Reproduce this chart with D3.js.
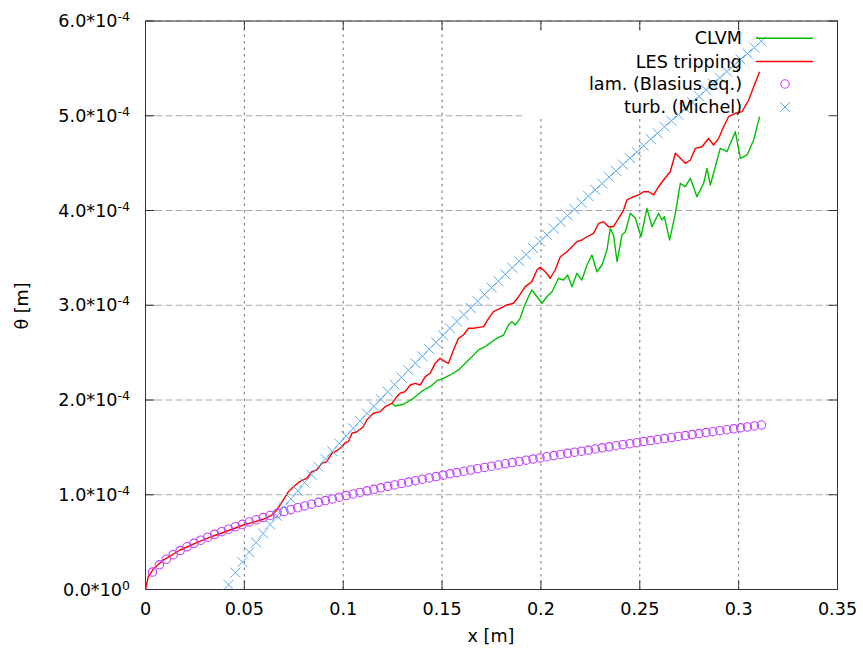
<!DOCTYPE html>
<html><head><meta charset="utf-8">
<script src="https://cdn.jsdelivr.net/npm/d3@7"></script>
<style>
body{margin:0;background:#fff}
svg{display:block}
text{font-family:"DejaVu Sans",sans-serif;fill:#000}
</style>
</head><body>
<svg id="chart" width="863" height="652"></svg>
<script>
// ---- data (theta values in units of 1e-4 m) ----
const xTicks = [0, 0.05, 0.1, 0.15, 0.2, 0.25, 0.3, 0.35];
const xTickLabels = ["0", "0.05", "0.1", "0.15", "0.2", "0.25", "0.3", "0.35"];
const yTicks = [0, 1, 2, 3, 4, 5, 6];
const yTickMantissa = ["0.0", "1.0", "2.0", "3.0", "4.0", "5.0", "6.0"];
const yTickExponent = ["0", "-4", "-4", "-4", "-4", "-4", "-4"];
const seriesNames = ["CLVM", "LES tripping", "lam. (Blasius eq.)", "turb. (Michel)"];
const xLabel = "x [m]";
const yLabel = "θ [m]";

const lesX = [0,0.0014,0.0039,0.009,0.0175,0.0259,0.0343,0.0428,0.0495,0.0596,0.0639,0.0664,0.0697,0.0723,0.0748,0.0773,0.079,0.0816,0.0841,0.0866,0.0892,0.0917,0.0942,0.0968,0.0993,0.101,0.1026,0.1044,0.1069,0.1102,0.1119,0.1153,0.1187,0.1212,0.1246,0.1271,0.1288,0.1313,0.1339,0.1364,0.1389,0.1415,0.144,0.1465,0.149,0.1516,0.1532,0.1558,0.1583,0.1608,0.1634,0.1659,0.171,0.1735,0.176,0.1794,0.1828,0.1861,0.1887,0.1921,0.1954,0.198,0.1996,0.2022,0.2047,0.2072,0.2098,0.2132,0.2157,0.2182,0.2207,0.2233,0.2266,0.2292,0.2317,0.2342,0.2367,0.2393,0.2418,0.2435,0.2469,0.2494,0.2519,0.2545,0.257,0.2595,0.262,0.2654,0.268,0.2705,0.273,0.2756,0.2781,0.2815,0.2848,0.2873,0.2899,0.2924,0.2949,0.2983,0.3017,0.3051,0.3076,0.3106];
const lesY = [0,0.135,0.213,0.311,0.417,0.494,0.565,0.628,0.681,0.741,0.786,0.839,0.945,1.032,1.085,1.127,1.148,1.174,1.243,1.261,1.332,1.349,1.437,1.465,1.507,1.549,1.56,1.649,1.665,1.718,1.789,1.86,1.877,1.929,1.965,2.035,2.071,2.088,2.158,2.176,2.158,2.246,2.282,2.387,2.44,2.404,2.387,2.528,2.651,2.686,2.757,2.757,2.774,2.862,2.932,2.968,3.003,3.021,3.09,3.196,3.249,3.372,3.401,3.354,3.285,3.372,3.512,3.565,3.618,3.671,3.689,3.723,3.759,3.865,3.882,3.829,3.829,3.918,4.005,4.111,4.146,4.164,4.198,4.198,4.164,4.251,4.322,4.409,4.604,4.551,4.498,4.533,4.656,4.673,4.762,4.691,4.762,4.884,4.99,5.026,5.043,5.166,5.307,5.465];

const clvmX = [0.1246,0.1263,0.1305,0.1355,0.1406,0.144,0.1474,0.1507,0.1541,0.1583,0.1617,0.1651,0.1684,0.1718,0.1752,0.1777,0.1811,0.1836,0.1853,0.187,0.1895,0.1912,0.1937,0.1954,0.198,0.2005,0.203,0.2056,0.2089,0.2114,0.2135,0.2157,0.2182,0.2207,0.2233,0.2258,0.2283,0.2309,0.2334,0.2351,0.2367,0.2385,0.241,0.2427,0.2452,0.2477,0.2506,0.2536,0.2562,0.2595,0.2612,0.2624,0.2651,0.268,0.2705,0.273,0.2756,0.2789,0.2823,0.284,0.2857,0.2882,0.2907,0.2941,0.2983,0.3009,0.3043,0.3076,0.3106];
const clvmY = [1.965,1.937,1.955,2.018,2.105,2.14,2.204,2.229,2.264,2.317,2.387,2.457,2.528,2.563,2.615,2.651,2.686,2.792,2.826,2.792,2.862,2.968,3.09,3.161,3.09,3.021,3.09,3.143,3.285,3.266,3.319,3.196,3.337,3.266,3.425,3.53,3.354,3.425,3.583,3.812,3.742,3.46,3.742,3.776,3.97,3.92,3.723,4.023,3.829,3.97,3.9,3.935,3.689,3.97,4.287,4.251,4.34,4.146,4.287,4.445,4.269,4.462,4.656,4.621,4.832,4.551,4.586,4.744,4.99];

const blasiusX = [0.0035,0.007,0.0105,0.014,0.0175,0.021,0.0245,0.028,0.0315,0.035,0.0385,0.042,0.0455,0.049,0.0525,0.056,0.0595,0.063,0.0665,0.07,0.0735,0.077,0.0805,0.084,0.0875,0.091,0.0945,0.098,0.1015,0.105,0.1085,0.112,0.1155,0.119,0.1225,0.126,0.1295,0.133,0.1365,0.14,0.1435,0.147,0.1505,0.154,0.1575,0.161,0.1645,0.168,0.1715,0.175,0.1785,0.182,0.1855,0.189,0.1925,0.196,0.1995,0.203,0.2065,0.21,0.2135,0.217,0.2205,0.224,0.2275,0.231,0.2345,0.238,0.2415,0.245,0.2485,0.252,0.2555,0.259,0.2625,0.266,0.2695,0.273,0.2765,0.28,0.2835,0.287,0.2905,0.294,0.2975,0.301,0.3045,0.308,0.3115];
const blasiusY = [0.184,0.26,0.319,0.368,0.411,0.451,0.487,0.52,0.552,0.582,0.61,0.637,0.663,0.688,0.713,0.736,0.759,0.781,0.802,0.823,0.843,0.863,0.882,0.901,0.92,0.938,0.956,0.974,0.991,1.008,1.024,1.041,1.057,1.073,1.089,1.104,1.119,1.134,1.149,1.164,1.178,1.192,1.207,1.221,1.234,1.248,1.261,1.275,1.288,1.301,1.314,1.327,1.34,1.352,1.365,1.377,1.389,1.401,1.413,1.425,1.437,1.449,1.46,1.472,1.483,1.495,1.506,1.517,1.528,1.539,1.55,1.561,1.572,1.583,1.593,1.604,1.615,1.625,1.635,1.646,1.656,1.666,1.676,1.686,1.696,1.706,1.716,1.726,1.736];

const michelX = [0.042,0.0455,0.049,0.0525,0.056,0.0595,0.063,0.0665,0.07,0.0735,0.077,0.0805,0.084,0.0875,0.091,0.0945,0.098,0.1015,0.105,0.1085,0.112,0.1155,0.119,0.1225,0.126,0.1295,0.133,0.1365,0.14,0.1435,0.147,0.1505,0.154,0.1575,0.161,0.1645,0.168,0.1715,0.175,0.1785,0.182,0.1855,0.189,0.1925,0.196,0.1995,0.203,0.2065,0.21,0.2135,0.217,0.2205,0.224,0.2275,0.231,0.2345,0.238,0.2415,0.245,0.2485,0.252,0.2555,0.259,0.2625,0.266,0.2695,0.273,0.2765,0.28,0.2835,0.287,0.2905,0.294,0.2975,0.301,0.3045,0.308,0.3115];
const michelY = [0.05,0.178,0.29,0.395,0.495,0.592,0.686,0.777,0.868,0.956,1.042,1.128,1.211,1.295,1.378,1.459,1.54,1.621,1.7,1.779,1.857,1.933,2.009,2.087,2.162,2.238,2.313,2.389,2.461,2.537,2.609,2.683,2.757,2.829,2.901,2.971,3.043,3.113,3.186,3.254,3.326,3.396,3.465,3.535,3.604,3.673,3.743,3.81,3.88,3.947,4.014,4.082,4.152,4.219,4.284,4.353,4.418,4.485,4.553,4.617,4.683,4.754,4.815,4.884,4.947,5.012,5.077,5.144,5.205,5.274,5.337,5.402,5.467,5.529,5.594,5.656,5.719,5.787];

// ---- drawing ----
const svg = d3.select("#chart");
const x = d3.scaleLinear().domain([0, 0.35]).range([145.5, 837.5]);
const y = d3.scaleLinear().domain([0, 6]).range([589.5, 21]);
const [X0, X1] = x.range(), [Y0, Y1] = y.range();
const FS = 17.6;

const colGreen = "#00c000", colRed = "#ff0000", colCirc = "#c040ff", colCross = "#5aaaf2";

// grid
const g = svg.append("g");
g.selectAll(".hg").data(yTicks).join("line")
  .attr("x1", X0).attr("x2", X1).attr("y1", d => y(d)).attr("y2", d => y(d))
  .attr("stroke", "#a8a8a8").attr("stroke-width", 1).attr("stroke-dasharray", "7,3");
g.selectAll(".vg").data(xTicks).join("line")
  .attr("x1", d => x(d)).attr("x2", d => x(d)).attr("y1", Y0).attr("y2", Y1)
  .attr("stroke", "#707070").attr("stroke-width", 1).attr("stroke-dasharray", "2.5,4");

// key blanking box
svg.append("rect").attr("x", 522).attr("y", 31).attr("width", X1 - 522).attr("height", 86).attr("fill", "#fff");

// border + ticks
svg.append("rect").attr("x", X0).attr("y", Y1).attr("width", X1 - X0).attr("height", Y0 - Y1)
  .attr("fill", "none").attr("stroke", "#333").attr("stroke-width", 1);
const tl = 9;
const tk = svg.append("g").attr("stroke", "#333").attr("stroke-width", 1);
xTicks.forEach(d => {
  tk.append("line").attr("x1", x(d)).attr("x2", x(d)).attr("y1", Y0).attr("y2", Y0 - tl);
  tk.append("line").attr("x1", x(d)).attr("x2", x(d)).attr("y1", Y1).attr("y2", Y1 + tl);
});
yTicks.forEach(d => {
  tk.append("line").attr("x1", X0).attr("x2", X0 + tl).attr("y1", y(d)).attr("y2", y(d));
  tk.append("line").attr("x1", X1).attr("x2", X1 - tl).attr("y1", y(d)).attr("y2", y(d));
});

// tick labels
svg.selectAll(".xl").data(xTicks).join("text")
  .attr("x", d => x(d)).attr("y", 615).attr("text-anchor", "middle").attr("font-size", FS)
  .text((d, i) => xTickLabels[i]);
const yl = svg.selectAll(".yl").data(yTicks).join("text")
  .attr("x", 130).attr("y", d => y(d) + 6).attr("text-anchor", "end").attr("font-size", FS);
yl.append("tspan").text((d, i) => yTickMantissa[i] + "*10");
yl.append("tspan").attr("font-size", 12.5).attr("dy", -6).text((d, i) => yTickExponent[i]);

// axis labels
svg.append("text").attr("x", 491).attr("y", 642).attr("text-anchor", "middle").attr("font-size", FS).text(xLabel);
svg.append("text").attr("transform", "translate(28,306) rotate(-90)").attr("text-anchor", "middle").attr("font-size", FS).text(yLabel);

// data
const line = d3.line().x(d => x(d[0])).y(d => y(d[1]));
const plot = svg.append("g");

const crossPath = (cx, cy, r) => `M${cx - r},${cy - r}L${cx + r},${cy + r}M${cx - r},${cy + r}L${cx + r},${cy - r}`;

plot.append("path").datum(d3.zip(clvmX, clvmY)).attr("d", line)
  .attr("fill", "none").attr("stroke", colGreen).attr("stroke-width", 1.4).attr("stroke-linejoin", "round");
plot.append("path").datum(d3.zip(lesX, lesY)).attr("d", line)
  .attr("fill", "none").attr("stroke", colRed).attr("stroke-width", 1.4).attr("stroke-linejoin", "round");
plot.selectAll(".bc").data(d3.zip(blasiusX, blasiusY)).join("circle")
  .attr("cx", d => x(d[0])).attr("cy", d => y(d[1])).attr("r", 4.2)
  .attr("fill", "none").attr("stroke", colCirc).attr("stroke-width", 1.1);
plot.selectAll(".mc").data(d3.zip(michelX, michelY)).join("path")
  .attr("d", d => crossPath(x(d[0]), y(d[1]), 5))
  .attr("fill", "none").attr("stroke", colCross).attr("stroke-width", 1);

// legend
const legY = [38.3, 61.5, 84, 107];
const key = svg.append("g");
seriesNames.forEach((name, i) => {
  key.append("text").attr("x", 742).attr("y", legY[i] + 6).attr("text-anchor", "end").attr("font-size", FS).text(name);
});
key.append("line").attr("x1", 756).attr("x2", 813).attr("y1", legY[0]).attr("y2", legY[0]).attr("stroke", colGreen).attr("stroke-width", 1.4);
key.append("line").attr("x1", 756).attr("x2", 813).attr("y1", legY[1]).attr("y2", legY[1]).attr("stroke", colRed).attr("stroke-width", 1.4);
key.append("circle").attr("cx", 785).attr("cy", legY[2]).attr("r", 4.2).attr("fill", "none").attr("stroke", colCirc).attr("stroke-width", 1.1);
key.append("path").attr("d", crossPath(785, legY[3], 5)).attr("fill", "none").attr("stroke", colCross);
</script>
</body></html>
